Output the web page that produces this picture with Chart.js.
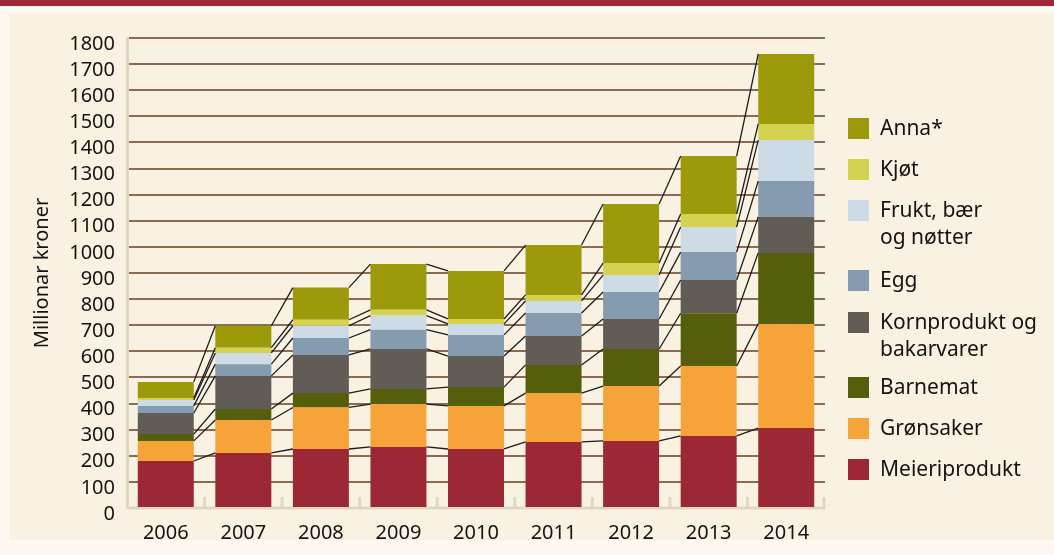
<!DOCTYPE html>
<html>
<head>
<meta charset="utf-8">
<script src="https://cdn.jsdelivr.net/npm/chart.js@4.4.0/dist/chart.umd.min.js"></script>
<style>
html, body { margin: 0; padding: 0; }
body { width: 1054px; height: 555px; background: #fdf9f2; position: relative; overflow: hidden; font-family: 'Noto Sans', sans-serif; }
#topBand { position: absolute; left: 0; top: 0; width: 1054px; height: 6px; background: #9c2836; }
#panel { position: absolute; left: 9px; top: 13px; width: 1045px; height: 527px; background: #f9f1e2; }
#chartWrap { position: absolute; left: 0; top: 0; width: 1054px; height: 555px; }
#legend { position: absolute; left: 848px; top: 0; }
.legend-item { position: absolute; left: 0; display: flex; align-items: flex-start; white-space: nowrap; }
.legend-box { width: 21px; height: 21px; margin-top: 4px; margin-right: 11px; flex: none; }
.legend-text { font-size: 21px; line-height: 27px; color: #141414; }
</style>
</head>
<body>
<div id="topBand"></div>
<div id="panel"></div>
<div id="chartWrap"><canvas id="salesChart"></canvas></div>
<div id="legend"></div>
<script>
// ============================================
// Omsetning av økologiske matvarer 2006-2014
// ============================================

const years = ['2006', '2007', '2008', '2009', '2010', '2011', '2012', '2013', '2014'];

// series, bottom of stack first
const meieri    = [180, 211, 226, 234, 226, 253, 257, 276, 306];
const gronsaker = [77, 126, 159, 164, 165, 187, 210, 268, 399];
const barnemat  = [26, 42, 55, 58, 72, 108, 142, 202, 272];
const kornprod  = [81, 127, 146, 153, 119, 111, 115, 127, 138];
const egg       = [27, 45, 65, 74, 81, 88, 103, 107, 137];
const frukt     = [23, 43, 47, 54, 42, 46, 65, 96, 157];
const kjot      = [7, 20, 23, 22, 19, 23, 46, 50, 62];
const anna      = [62, 84, 123, 175, 184, 191, 226, 222, 268];

const yTicks = [0, 100, 200, 300, 400, 500, 600, 700, 800, 900, 1000, 1100, 1200, 1300, 1400, 1500, 1600, 1700, 1800];

const series = [
    { label: 'Meieriprodukt', legend: 'Meieriprodukt', data: meieri, color: '#9c2836', legendTop: 459 },
    { label: 'Grønsaker', legend: 'Grønsaker', data: gronsaker, color: '#f6a43a', legendTop: 418 },
    { label: 'Barnemat', legend: 'Barnemat', data: barnemat, color: '#545e0b', legendTop: 377 },
    { label: 'Kornprodukt og bakarvarer', legend: 'Kornprodukt og<br>bakarvarer', data: kornprod, color: '#625c57', legendTop: 312 },
    { label: 'Egg', legend: 'Egg', data: egg, color: '#859bb0', legendTop: 270 },
    { label: 'Frukt, bær og nøtter', legend: 'Frukt, bær<br>og nøtter', data: frukt, color: '#cddbe6', legendTop: 200 },
    { label: 'Kjøt', legend: 'Kjøt', data: kjot, color: '#d4d250', legendTop: 159 },
    { label: 'Anna*', legend: 'Anna*', data: anna, color: '#9c9a0b', legendTop: 118 }
];

Chart.defaults.font.family = "'Noto Sans', sans-serif";
Chart.defaults.font.size = 20;
Chart.defaults.color = '#141414';

// beige bottom axis with small upward ticks between the years
const axisDecor = {
    id: 'axisDecor',
    beforeDatasetsDraw(chart) {
        const { ctx, chartArea: a, scales: { x } } = chart;
        ctx.save();
        ctx.strokeStyle = '#e1d7bf';
        ctx.lineWidth = 3;
        ctx.beginPath();
        ctx.moveTo(a.left, a.bottom);
        ctx.lineTo(a.right, a.bottom);
        for (let k = 1; k <= years.length; k++) {
            const px = k < years.length ? (x.getPixelForValue(k - 1) + x.getPixelForValue(k)) / 2 : a.right - 1;
            ctx.moveTo(px, a.bottom);
            ctx.lineTo(px, a.bottom - 11);
        }
        ctx.stroke();
        ctx.restore();
    }
};

// thin black lines joining each layer boundary from one bar to the next
const connectors = {
    id: 'connectors',
    afterDatasetsDraw(chart) {
        const ctx = chart.ctx;
        ctx.save();
        ctx.strokeStyle = '#1c1c1c';
        ctx.lineWidth = 1.3;
        chart.data.datasets.forEach((ds, d) => {
            const bars = chart.getDatasetMeta(d).data;
            for (let i = 0; i < bars.length - 1; i++) {
                const a = bars[i], b = bars[i + 1];
                ctx.beginPath();
                ctx.moveTo(a.x + a.width / 2, a.y);
                ctx.lineTo(b.x - b.width / 2, b.y);
                ctx.stroke();
            }
        });
        ctx.restore();
    }
};

const ctx = document.getElementById('salesChart').getContext('2d');
const salesChart = new Chart(ctx, {
    type: 'bar',
    data: {
        labels: years,
        datasets: series.map(s => ({
            label: s.label,
            data: s.data,
            backgroundColor: s.color,
            borderWidth: 0,
            barPercentage: 0.722,
            categoryPercentage: 1
        }))
    },
    options: {
        responsive: true,
        maintainAspectRatio: false,
        animation: false,
        layout: { padding: { top: 38, right: 229, bottom: 0, left: 0 } },
        plugins: { legend: { display: false } },
        scales: {
            x: {
                stacked: true,
                grid: { display: false },
                border: { display: false },
                ticks: { padding: 5, color: '#141414' },
                afterFit: (scale) => { scale.height = 47; }
            },
            y: {
                stacked: true,
                min: 0,
                max: 1800,
                afterBuildTicks: (scale) => { scale.ticks = yTicks.map(v => ({ value: v })); },
                ticks: { padding: 12, labelOffset: 6, autoSkip: false, color: '#141414', callback: (v) => String(v) },
                grid: {
                    drawTicks: false,
                    lineWidth: 2,
                    color: (c) => c.tick && c.tick.value === 0 ? 'rgba(0,0,0,0)' : 'rgba(110, 75, 50, 0.8)'
                },
                border: { display: true, color: '#e1d7bf', width: 3 },
                title: { display: true, text: 'Millionar kroner', padding: { top: 30, bottom: 0 }, color: '#141414' },
                afterFit: (scale) => { scale.width = 127; }
            }
        }
    },
    plugins: [axisDecor, connectors]
});

// legend, top entry is the top of the stack
const legendEl = document.getElementById('legend');
legendEl.innerHTML = series.map(s => `
    <div class="legend-item" style="top:${s.legendTop - 4}px">
        <div class="legend-box" style="background:${s.color}"></div>
        <div class="legend-text">${s.legend}</div>
    </div>
`).join('');
</script>
</body>
</html>
